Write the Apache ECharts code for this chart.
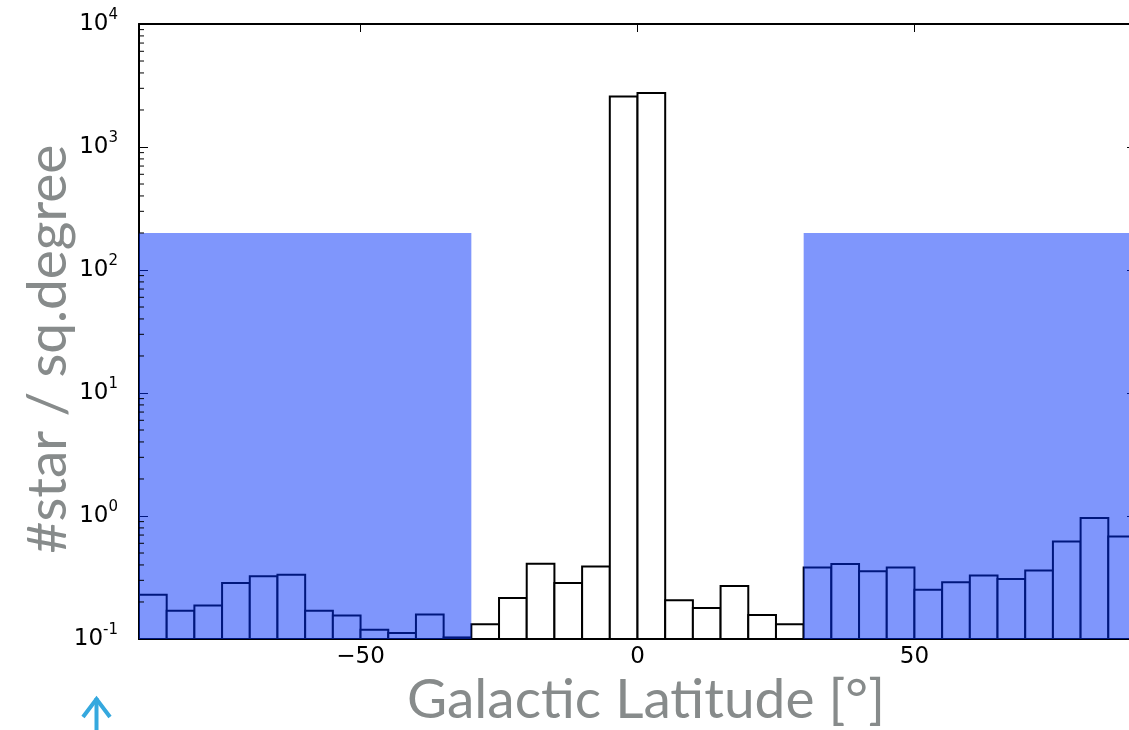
<!DOCTYPE html>
<html><head><meta charset="utf-8">
<script src="https://cdn.jsdelivr.net/npm/echarts@6/dist/echarts.min.js"></script>
<style>html,body{margin:0;padding:0;background:#fff;overflow:hidden;width:1129px;height:730px;} #c{width:1146px;height:730px;}</style>
</head><body><div id="c"></div>
<script>
// Histogram bins: left edges (degrees), width 5
const binEdgesLeft = [-90,-85,-80,-75,-70,-65,-60,-55,-50,-45,-40,-35,
  -30,-25,-20,-15,-10,-5,0,5,10,15,20,25,
  30,35,40,45,50,55,60,65,70,75,80,85];
const binWidth = 5;
const starDensity = [0.229,0.170,0.187,0.285,0.323,0.333,0.170,0.155,0.119,0.112,0.158,0.103,
  0.132,0.215,0.409,0.285,0.389,2577,2748,0.207,0.179,0.270,0.157,0.132,
  0.382,0.407,0.355,0.382,0.252,0.290,0.329,0.307,0.361,0.621,0.964,0.682];
// Highlighted latitude regions [from, to, height]
const regions = [[-90,-30,200],[30,90,200]];
const xTickValues = [-50,0,50];
const yMinorTicks = [0.2,0.3,0.4,0.5,0.6,0.7,0.8,0.9,
  2,3,4,5,6,7,8,9, 20,30,40,50,60,70,80,90,
  200,300,400,500,600,700,800,900, 2000,3000,4000,5000,6000,7000,8000,9000];

const chart = echarts.init(document.getElementById('c'));
const axisBlack = '#000';
const bars = binEdgesLeft.map((x,i)=>[x, x+binWidth, starDensity[i]]);

chart.setOption({
  animation:false,
  backgroundColor:'#fff',
  grid:{left:139, right:10, top:24, bottom:91, show:false},
  xAxis:[{
    type:'value', min:-90, max:90, position:'bottom',
    axisLine:{show:true, onZero:false, lineStyle:{color:axisBlack, width:2}},
    axisTick:{show:true, inside:true, length:8, customValues:xTickValues, lineStyle:{color:axisBlack,width:1}},
    axisLabel:{show:true, customValues:xTickValues, margin:7, color:'#000', fontFamily:'DejaVu Sans', fontSize:23,
      formatter:v=> (v<0? '\u2212'+Math.abs(v): String(v))},
    splitLine:{show:false}
  },{
    type:'value', min:-90, max:90, position:'top',
    axisLine:{show:true, onZero:false, lineStyle:{color:axisBlack, width:2}},
    axisTick:{show:true, inside:true, length:8, customValues:xTickValues, lineStyle:{color:axisBlack,width:1}},
    axisLabel:{show:false}, splitLine:{show:false}
  }],
  yAxis:[{
    type:'log', logBase:10, min:0.1, max:10000, position:'left',
    axisLine:{show:true, onZero:false, lineStyle:{color:axisBlack, width:2}},
    axisTick:{show:true, inside:true, length:9, lineStyle:{color:axisBlack,width:1}},
    axisLabel:{show:true, margin:21, color:'#000',
      formatter:v=>'{b|10}{s|'+Math.round(Math.log10(v))+'}',
      rich:{b:{fontFamily:'DejaVu Sans', fontSize:23, lineHeight:32, color:'#000'},
            s:{fontFamily:'DejaVu Sans', fontSize:15, lineHeight:32, verticalAlign:'top', color:'#000'}}},
    splitLine:{show:false}
  },{
    type:'log', logBase:10, min:0.1, max:10000, position:'right',
    axisLine:{show:true, onZero:false, lineStyle:{color:axisBlack, width:2}},
    axisTick:{show:true, inside:true, length:9, lineStyle:{color:axisBlack,width:1}},
    axisLabel:{show:false}, splitLine:{show:false}
  }],
  series:[{
    type:'custom', xAxisIndex:0, yAxisIndex:0, z:2, clip:false,
    data:bars,
    renderItem:(params, api)=>{
      const p0 = api.coord([api.value(0), api.value(2)]);
      const p1 = api.coord([api.value(1), 0.1]);
      return {type:'rect', shape:{x:p0[0], y:p0[1], width:p1[0]-p0[0], height:p1[1]-p0[1]},
        style:{fill:'#fff', stroke:'#000', lineWidth:2}};
    }
  },{
    type:'custom', xAxisIndex:0, yAxisIndex:0, z:3, clip:false,
    data:regions,
    renderItem:(params, api)=>{
      const p0 = api.coord([api.value(0), api.value(2)]);
      const p1 = api.coord([api.value(1), 0.1]);
      return {type:'rect', shape:{x:p0[0], y:p0[1], width:p1[0]-p0[0], height:p1[1]-p0[1]},
        style:{fill:'rgba(0,45,249,0.5)'}};
    }
  },{
    type:'custom', xAxisIndex:0, yAxisIndex:0, z:4, clip:false,
    data:yMinorTicks.map(v=>[v]),
    renderItem:(params, api)=>{
      const p = api.coord([-90, api.value(0)]);
      return {type:'line', shape:{x1:p[0], y1:p[1], x2:p[0]+5, y2:p[1]}, style:{stroke:'#000', lineWidth:1}};
    }
  }],
  graphic:[
    {type:'text', x:646, y:700, style:{text:'Galactic Latitude [°]', x:0, y:0, align:'center', verticalAlign:'middle',
      font:'55px Lato', fill:'#878b8b'}},
    {type:'text', rotation:Math.PI/2, x:48, y:349, style:{text:'#star / sq.degree', x:0, y:0, align:'center', verticalAlign:'middle',
      font:'55px Lato', fill:'#878b8b'}},
    {type:'polyline', shape:{points:[[83,717],[96.5,699],[110,717]]}, style:{stroke:'#35a8de', lineWidth:4, fill:null}},
    {type:'line', shape:{x1:96.5, y1:698, x2:96.5, y2:730}, style:{stroke:'#35a8de', lineWidth:4}}
  ]
});
</script>
</body></html>
